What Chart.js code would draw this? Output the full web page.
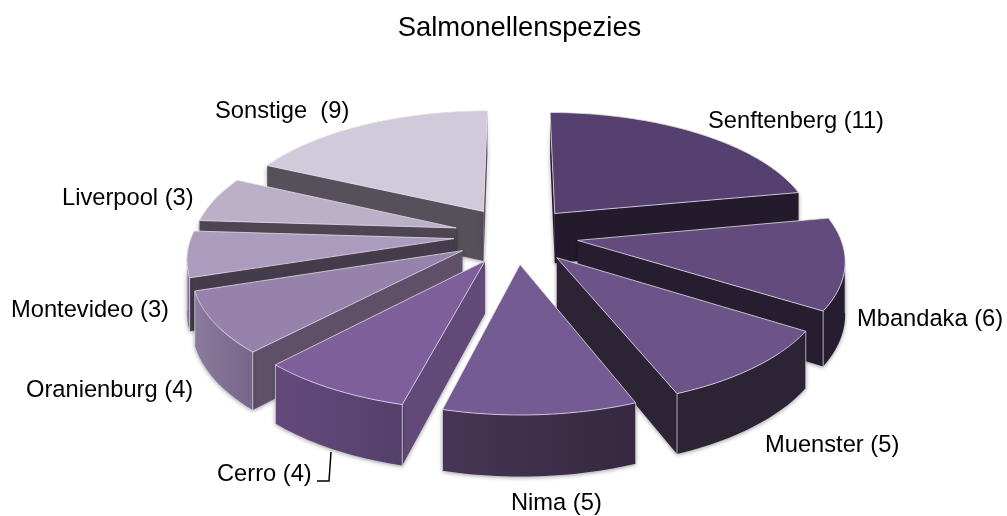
<!DOCTYPE html>
<html>
<head>
<meta charset="utf-8">
<style>
  html, body { margin: 0; padding: 0; background: #fff; }
  #wrap { position: relative; width: 1007px; height: 516px; }
</style>
<script src="https://cdn.jsdelivr.net/npm/chart.js@4"></script>
</head>
<body>
<div id="wrap"><canvas id="pie"></canvas></div>
<script>
const species = ['Senftenberg', 'Mbandaka', 'Muenster', 'Nima', 'Cerro', 'Oranienburg', 'Montevideo', 'Liverpool', 'Sonstige'];
const counts = [11, 6, 5, 5, 4, 4, 3, 3, 9];
const labelTexts = ['Senftenberg (11)', 'Mbandaka (6)', 'Muenster (5)', 'Nima (5)', 'Cerro (4)', 'Oranienburg (4)', 'Montevideo (3)', 'Liverpool (3)', 'Sonstige  (9)'];

const topColors = ['#56406f', '#634b7d', '#6c5388', '#755b94', '#7e5f9c', '#9782ab', '#ab9bbd', '#bcb0c9', '#d1cadb'];
const radialColors = ['#231a2c', '#261e30', '#2c2335', '#2c2335', '#624a78', '#5f4f68', '#453c4b', '#4d4552', '#55505a'];
const arcLeft = ['#231a2c', '#261e30', '#2c2335', '#473555', '#644a7c', '#8a7a9c', '#8f829f', '#9a8ea8', '#8a8590'];
const arcRight = ['#231a2c', '#261e30', '#2c2335', '#35283f', '#54406b', '#776689', '#7e7190', '#877c95', '#78737e'];

// where each label sits (left edge, middle of text)
const labelSpots = [[708, 121], [857, 319], [765, 445], [511, 503], [217, 474], [26, 390], [11, 310], [62, 198], [215, 111]];

// perspective of the tilted pie
const view = { cx: 516, cy: 235, squash: 0.46, dist: 1890, radius: 262, depth: 51 };

function project(px, py, h) {
  const w = 1 + py / view.dist;
  return [view.cx + px / w, view.cy - view.squash * py / w + h / w];
}

function signedArea(pts) {
  let a = 0;
  pts.forEach((p, i) => {
    const q = pts[(i + 1) % pts.length];
    a += p[0] * q[1] - q[0] * p[1];
  });
  return a;
}

function poly(ctx, pts) {
  ctx.beginPath();
  pts.forEach((p, i) => i ? ctx.lineTo(p[0], p[1]) : ctx.moveTo(p[0], p[1]));
  ctx.closePath();
}

function drawSlice(ctx, arc, idx) {
  const scale = view.radius / arc.outerRadius;
  const a0 = arc.startAngle + Math.PI / 2;
  const a1 = arc.endAngle + Math.PI / 2;
  const mid = (a0 + a1) / 2;
  const off = arc.options.offset * scale;
  const ox = off * Math.sin(mid), oy = off * Math.cos(mid);

  // outline on the ground, clockwise seen from above
  const rim = [];
  const steps = Math.max(6, Math.round((a1 - a0) * 40));
  for (let i = 0; i <= steps; i++) {
    const t = a0 + (a1 - a0) * i / steps;
    rim.push([ox + view.radius * Math.sin(t), oy + view.radius * Math.cos(t)]);
  }
  const apex = [ox, oy];
  const top = p => project(p[0], p[1], 0);
  const bot = p => project(p[0], p[1], view.depth);
  const faces = (a, b) => [top(a), top(b), bot(b), bot(a)];

  ctx.save();
  ctx.shadowColor = 'rgba(0,0,0,0.4)';
  ctx.shadowBlur = 4;
  ctx.shadowOffsetY = 1;

  // radial walls
  [[apex, rim[0]], [rim[steps], apex]].forEach(pair => {
    const q = faces(pair[0], pair[1]);
    if (signedArea(q) < 0) {
      poly(ctx, q);
      ctx.fillStyle = radialColors[idx];
      ctx.fill();
    }
  });

  // round wall, only the part that faces us
  const seen = [];
  for (let i = 0; i < steps; i++) {
    if (signedArea(faces(rim[i], rim[i + 1])) < 0) seen.push(i);
  }
  if (seen.length) {
    const run = rim.slice(seen[0], seen[seen.length - 1] + 2);
    const outline = run.map(top).concat(run.map(bot).reverse());
    const xs = outline.map(p => p[0]);
    const grad = ctx.createLinearGradient(Math.min(...xs), 0, Math.max(...xs), 0);
    grad.addColorStop(0, arcLeft[idx]);
    grad.addColorStop(1, arcRight[idx]);
    poly(ctx, outline);
    ctx.fillStyle = grad;
    ctx.fill();
    ctx.shadowColor = 'transparent';
    ctx.strokeStyle = 'rgba(225,220,232,0.75)';
    ctx.lineWidth = 1;
    [run[0], run[run.length - 1]].forEach(p => {
      ctx.beginPath();
      ctx.moveTo(...top(p));
      ctx.lineTo(...bot(p));
      ctx.stroke();
    });
  }
  ctx.restore();

  // top face
  const face = [top(apex)].concat(rim.map(top));
  poly(ctx, face);
  ctx.fillStyle = arc.options.backgroundColor;
  ctx.fill();
  ctx.strokeStyle = 'rgba(225,220,232,0.8)';
  ctx.lineWidth = 1;
  ctx.stroke();
}

const pie3d = {
  id: 'pie3d',
  beforeDatasetDraw(chart, args) {
    const ctx = chart.ctx;
    const arcs = chart.getDatasetMeta(args.index).data;
    // paint the far slices first
    const order = arcs.map((a, i) => i).sort((i, j) => {
      const mi = (arcs[i].startAngle + arcs[i].endAngle) / 2 + Math.PI / 2;
      const mj = (arcs[j].startAngle + arcs[j].endAngle) / 2 + Math.PI / 2;
      return Math.cos(mj) - Math.cos(mi);
    });
    order.forEach(i => drawSlice(ctx, arcs[i], i));
    return false;
  },
  afterDraw(chart) {
    const ctx = chart.ctx;
    ctx.save();
    ctx.fillStyle = '#000';
    ctx.font = '23.7px "Liberation Sans", Arial, sans-serif';
    ctx.textBaseline = 'middle';
    labelTexts.forEach((t, i) => ctx.fillText(t, labelSpots[i][0], labelSpots[i][1]));
    // leader line of Cerro
    ctx.strokeStyle = '#000';
    ctx.lineWidth = 1.5;
    ctx.beginPath();
    ctx.moveTo(317, 481);
    ctx.lineTo(329, 481);
    ctx.lineTo(331, 452);
    ctx.stroke();
    ctx.restore();
  }
};

new Chart(document.getElementById('pie'), {
  type: 'pie',
  data: {
    labels: species,
    datasets: [{
      data: counts,
      backgroundColor: topColors,
      borderWidth: 0,
      offset: 49
    }]
  },
  options: {
    responsive: true,
    maintainAspectRatio: false,
    animation: false,
    layout: { padding: { left: 32 } },
    plugins: {
      legend: { display: false },
      tooltip: { enabled: false },
      title: {
        display: true,
        text: 'Salmonellenspezies',
        color: '#000',
        font: { family: '"Liberation Sans", Arial, sans-serif', size: 27.4, weight: 'normal' },
        padding: { top: 12, bottom: 10 }
      }
    }
  },
  plugins: [pie3d]
});
</script>
</body>
</html>
